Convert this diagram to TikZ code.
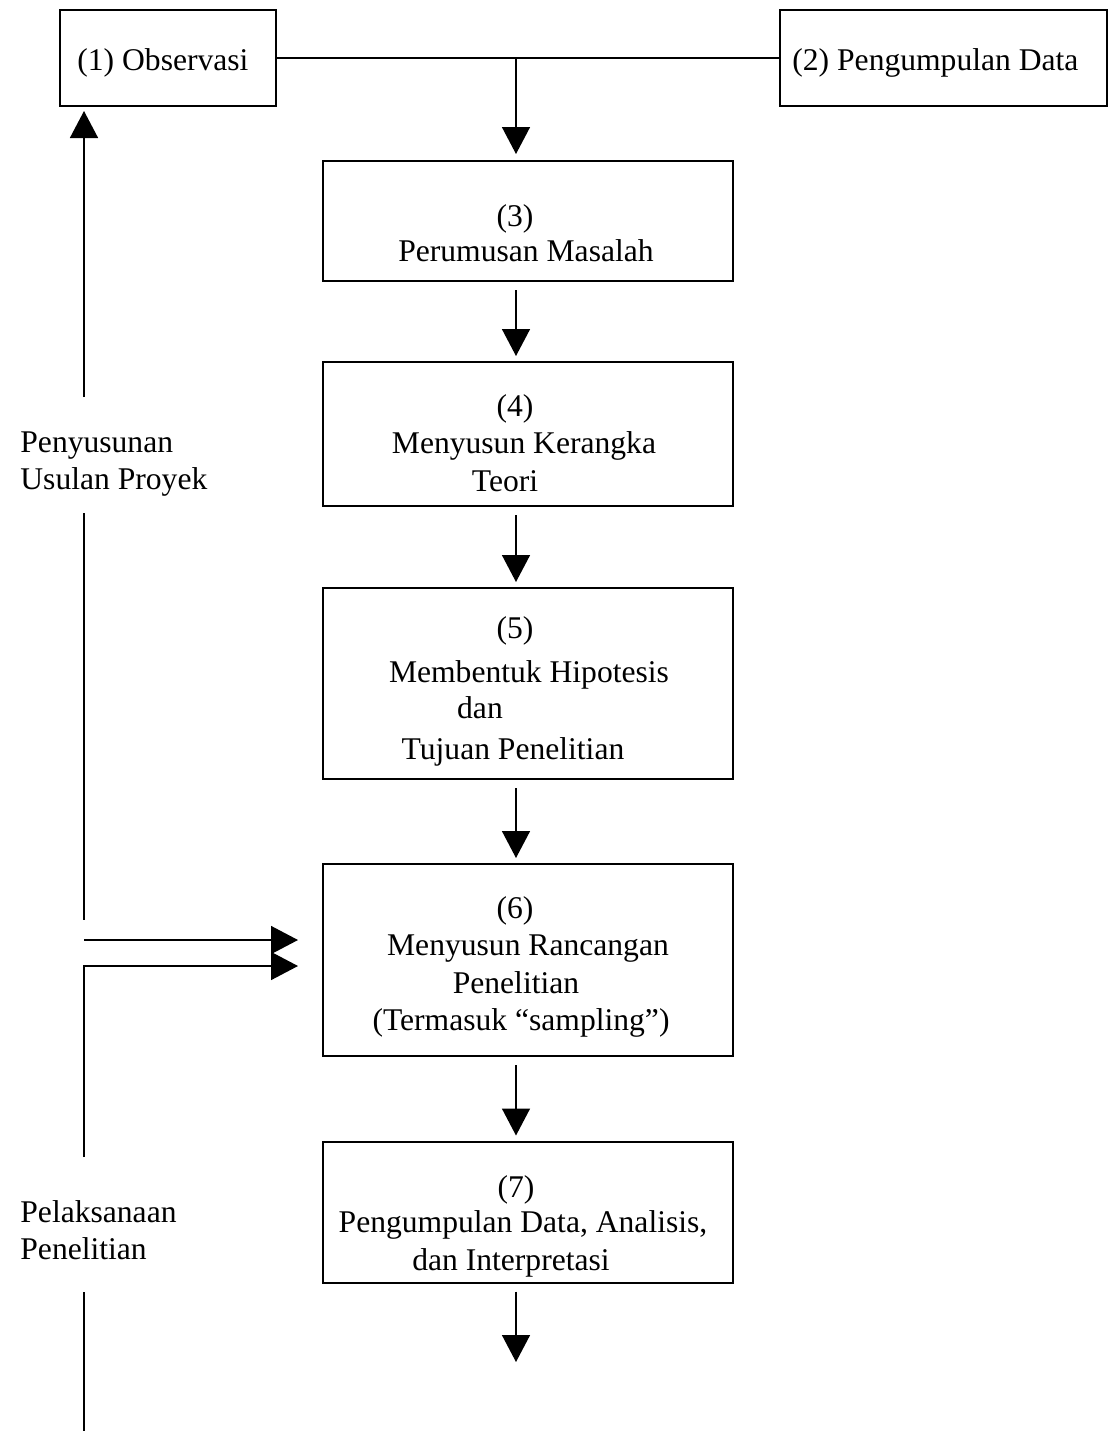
\documentclass[tikz,border=0pt]{standalone}
\usepackage{fontspec}
\setmainfont{Liberation Serif}
\usetikzlibrary{arrows.meta}
\begin{document}
\begin{tikzpicture}[x=0.5pt,y=-0.5pt,
  every node/.style={font=\fontsize{15.8}{18.75}\selectfont},
  box/.style={draw, line width=1pt, inner sep=0pt},
  txt/.style={anchor=base, inner sep=0pt},
  plain/.style={line width=0.75pt},
  flow/.style={line width=0.75pt, -{Triangle[length=13.5pt,width=14pt]}, shorten <=4pt, shorten >=2.5pt}]
\useasboundingbox (0,0) rectangle (1109,1431);

% boxes
\node[box, minimum width=108pt, minimum height=48pt] (b1) at (168,58) {};
\node[box, minimum width=163.5pt, minimum height=48pt] (b2) at (943.5,58) {};
\node[box, minimum width=205pt, minimum height=60pt] (b3) at (528,221) {};
\node[box, minimum width=205pt, minimum height=72pt] (b4) at (528,434) {};
\node[box, minimum width=205pt, minimum height=95.5pt] (b5) at (528,683.5) {};
\node[box, minimum width=205pt, minimum height=96pt] (b6) at (528,960) {};
\node[box, minimum width=205pt, minimum height=70.5pt] (b7) at (528,1212) {};

% texts
\node[txt, anchor=base west] (t1) at (77,70) {(1) Observasi};
\node[txt, anchor=base west] (t2) at (792,70) {(2) Pengumpulan Data};
\node[txt] (t3) at (526,226) {\begin{tabular}[t]{@{}c@{}}(3)\hspace*{11pt}\\[-1pt]Perumusan Masalah\end{tabular}};
\node[txt] (t4) at (524,416) {\begin{tabular}[t]{@{}c@{}}(4)\hspace*{9pt}\\Menyusun Kerangka\\Teori\hspace*{19pt}\end{tabular}};
\node[txt] (t5) at (529,638) {\begin{tabular}[t]{@{}c@{}}(5)\hspace*{14pt}\\[3.5pt]Membentuk Hipotesis\\[-1pt]dan\hspace*{49pt}\\[2pt]Tujuan Penelitian\hspace*{16pt}\end{tabular}};
\node[txt] (t6) at (521,918) {\begin{tabular}[t]{@{}c@{}}(6)\hspace*{6pt}\\\hspace*{7pt}Menyusun Rancangan\\Penelitian\hspace*{5pt}\\(Termasuk “sampling”)\end{tabular}};
\node[txt] (t7) at (523,1197) {\begin{tabular}[t]{@{}c@{}}(7)\hspace*{7pt}\\[-1pt]Pengumpulan Data, Analisis,\\dan Interpretasi\hspace*{12pt}\end{tabular}};

% side labels
\node[txt, anchor=base west] (l1) at (20,452) {\begin{tabular}[t]{@{}l@{}}Penyusunan\\Usulan Proyek\end{tabular}};
\node[txt, anchor=base west] (l2) at (20,1222) {\begin{tabular}[t]{@{}l@{}}Pelaksanaan\\Penelitian\end{tabular}};

% top connectors
\coordinate (j) at (516,58);
\draw[plain] (b1.east) -- (b2.west);
\draw[flow, shorten <=0pt, shorten >=3pt] (j) -- (j |- b3.north);

% main flow
\draw[flow] (b3.south -| j) -- (b4.north -| j);
\draw[flow] (b4.south -| j) -- (b5.north -| j);
\draw[flow] (b5.south -| j) -- (b6.north -| j);
\draw[flow] (b6.south -| j) -- (b7.north -| j);
\coordinate (e7) at (516,1362);
\draw[flow, shorten >=0pt] (b7.south -| j) -- (e7);

% left side
\coordinate (u1) at (84,397);
\coordinate (u2) at (84,513);
\coordinate (u3) at (84,920);
\coordinate (h1) at (84,940);
\coordinate (h2) at (84,966);
\coordinate (d1) at (84,1157);
\coordinate (d2) at (84,1292);
\coordinate (d3) at (84,1431);
\draw[flow, shorten <=0pt, shorten >=2pt] (u1) -- (u1 |- b1.south);
\draw[plain] (u2) -- (u3);
\draw[flow, shorten <=0pt, shorten >=12pt] (h1) -- (h1 -| b6.west);
\draw[flow, shorten <=0pt, shorten >=12pt] (d1) -- (h2) -- (h2 -| b6.west);
\draw[plain] (d2) -- (d3);
\end{tikzpicture}
\end{document}
